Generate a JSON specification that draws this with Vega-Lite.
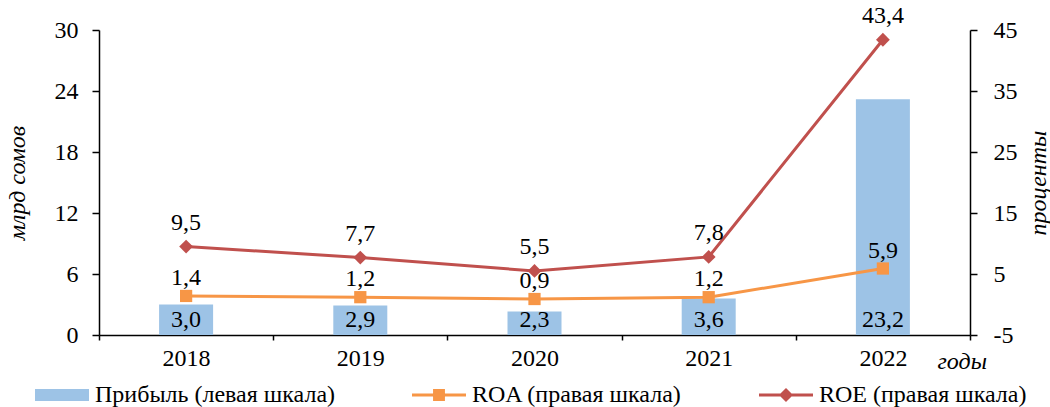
{
  "$schema": "https://vega.github.io/schema/vega-lite/v6.json",
  "width": 871,
  "height": 305,
  "autosize": {"type": "none"},
  "padding": {"left": 99, "top": 30, "right": 80, "bottom": 72},
  "config": {
    "locale": {"number": {"decimal": ",", "thousands": " ", "grouping": [3], "currency": ["", ""], "minus": "-"}},
    "view": {"stroke": null},
    "axis": {
      "labelFont": "Liberation Serif", "labelFontSize": 24, "labelColor": "#000",
      "titleFont": "Liberation Serif", "titleFontSize": 24, "titleFontStyle": "italic", "titleFontWeight": "normal", "titleColor": "#000",
      "domainColor": "#000", "domainWidth": 1.5, "tickColor": "#000", "tickWidth": 1.5, "grid": false
    }
  },
  "data": {"values": [
    {"year": "2018", "profit": 3.0, "roa": 1.4, "roe": 9.5},
    {"year": "2019", "profit": 2.9, "roa": 1.2, "roe": 7.7},
    {"year": "2020", "profit": 2.3, "roa": 0.9, "roe": 5.5},
    {"year": "2021", "profit": 3.6, "roa": 1.2, "roe": 7.8},
    {"year": "2022", "profit": 23.2, "roa": 5.9, "roe": 43.4}
  ]},
  "encoding": {
    "x": {"field": "year", "type": "nominal", "sort": null,
      "scale": {"paddingInner": 0, "paddingOuter": 0},
      "axis": {"title": "годы", "titleX": 838, "titleY": 33, "titleAlign": "left", "titleBaseline": "alphabetic",
        "tickBand": "extent", "tickSize": 5, "labelPadding": 6, "labelAngle": 0}}
  },
  "layer": [
    {
      "layer": [
        {
          "mark": {"type": "bar", "size": 54},
          "encoding": {
            "y": {"field": "profit", "type": "quantitative",
              "scale": {"domain": [0, 30], "nice": false, "zero": true},
              "axis": {"orient": "left", "title": "млрд сомов", "values": [0, 6, 12, 18, 24, 30], "tickSize": 7, "labelPadding": 14, "titlePadding": 25}},
            "color": {"datum": "Прибыль (левая шкала)", "type": "nominal",
              "scale": {"domain": ["Прибыль (левая шкала)", "ROA (правая шкала)", "ROE (правая шкала)"], "range": ["#9DC3E6", "#F79646", "#C0504D"]},
              "legend": {
                "orient": "none", "legendX": -64, "legendY": 338, "direction": "horizontal", "columns": 3,
                "columnPadding": 76, "symbolSize": 2916, "labelOffset": 6, "labelLimit": 400,
                "labelFontSize": 24, "labelFont": "Liberation Serif", "labelColor": "#000", "title": null, "padding": 0,
                "symbolStrokeWidth": 0,
                "encode": {"symbols": {"update": {
                  "shape": {"signal": "datum.value === 'Прибыль (левая шкала)' ? 'M-1,-0.22H1V0.22H-1Z' : datum.value === 'ROA (правая шкала)' ? 'M-1,-0.055H1V0.055H-1Z M-0.22,-0.22H0.22V0.22H-0.22Z' : 'M-1,-0.055H1V0.055H-1Z M0,-0.26L0.26,0L0,0.26L-0.26,0Z'"},
                  "fill": {"signal": "scale('color', datum.value)"},
                  "stroke": {"value": "transparent"},
                  "strokeWidth": {"value": 0},
                  "size": {"value": 2916},
                  "opacity": {"value": 1}
                }}}
              }}
          }
        },
        {
          "mark": {"type": "text", "baseline": "alphabetic", "dy": -8, "fontSize": 24, "color": "#000", "font": "Liberation Serif"},
          "encoding": {
            "y": {"datum": 0, "type": "quantitative"},
            "text": {"field": "profit", "type": "quantitative", "format": ".1f"}
          }
        }
      ]
    },
    {
      "layer": [
        {
          "mark": {"type": "line", "strokeWidth": 3},
          "encoding": {
            "y": {"field": "roa", "type": "quantitative",
              "scale": {"domain": [-5, 45], "nice": false, "zero": false},
              "axis": {"orient": "right", "title": "проценты", "values": [-5, 5, 15, 25, 35, 45], "tickSize": 7, "labelPadding": 16, "titleAngle": -90, "titleBaseline": "top", "titlePadding": 9}},
            "color": {"datum": "ROA (правая шкала)", "type": "nominal"}
          }
        },
        {
          "mark": {"type": "line", "strokeWidth": 3},
          "encoding": {
            "y": {"field": "roe", "type": "quantitative",
              "scale": {"domain": [-5, 45], "nice": false, "zero": false},
              "axis": {"orient": "right", "title": "проценты", "values": [-5, 5, 15, 25, 35, 45], "tickSize": 7, "labelPadding": 16, "titleAngle": -90, "titleBaseline": "top", "titlePadding": 9}},
            "color": {"datum": "ROE (правая шкала)", "type": "nominal"}
          }
        },
        {
          "mark": {"type": "point", "shape": "square", "filled": true, "size": 150, "opacity": 1},
          "encoding": {
            "y": {"field": "roa", "type": "quantitative",
              "scale": {"domain": [-5, 45], "nice": false, "zero": false},
              "axis": {"orient": "right", "title": "проценты", "values": [-5, 5, 15, 25, 35, 45], "tickSize": 7, "labelPadding": 16, "titleAngle": -90, "titleBaseline": "top", "titlePadding": 9}},
            "color": {"datum": "ROA (правая шкала)", "type": "nominal"}
          }
        },
        {
          "mark": {"type": "point", "shape": "diamond", "filled": true, "size": 190, "opacity": 1},
          "encoding": {
            "y": {"field": "roe", "type": "quantitative",
              "scale": {"domain": [-5, 45], "nice": false, "zero": false},
              "axis": {"orient": "right", "title": "проценты", "values": [-5, 5, 15, 25, 35, 45], "tickSize": 7, "labelPadding": 16, "titleAngle": -90, "titleBaseline": "top", "titlePadding": 9}},
            "color": {"datum": "ROE (правая шкала)", "type": "nominal"}
          }
        },
        {
          "mark": {"type": "text", "baseline": "alphabetic", "dy": -11, "fontSize": 24, "color": "#000", "font": "Liberation Serif"},
          "encoding": {
            "y": {"field": "roa", "type": "quantitative",
              "scale": {"domain": [-5, 45], "nice": false, "zero": false},
              "axis": {"orient": "right", "title": "проценты", "values": [-5, 5, 15, 25, 35, 45], "tickSize": 7, "labelPadding": 16, "titleAngle": -90, "titleBaseline": "top", "titlePadding": 9}},
            "text": {"field": "roa", "type": "quantitative", "format": ".1f"}
          }
        },
        {
          "mark": {"type": "text", "baseline": "alphabetic", "dy": -17, "fontSize": 24, "color": "#000", "font": "Liberation Serif"},
          "encoding": {
            "y": {"field": "roe", "type": "quantitative",
              "scale": {"domain": [-5, 45], "nice": false, "zero": false},
              "axis": {"orient": "right", "title": "проценты", "values": [-5, 5, 15, 25, 35, 45], "tickSize": 7, "labelPadding": 16, "titleAngle": -90, "titleBaseline": "top", "titlePadding": 9}},
            "text": {"field": "roe", "type": "quantitative", "format": ".1f"}
          }
        }
      ]
    }
  ],
  "resolve": {"scale": {"y": "independent"}}
}
